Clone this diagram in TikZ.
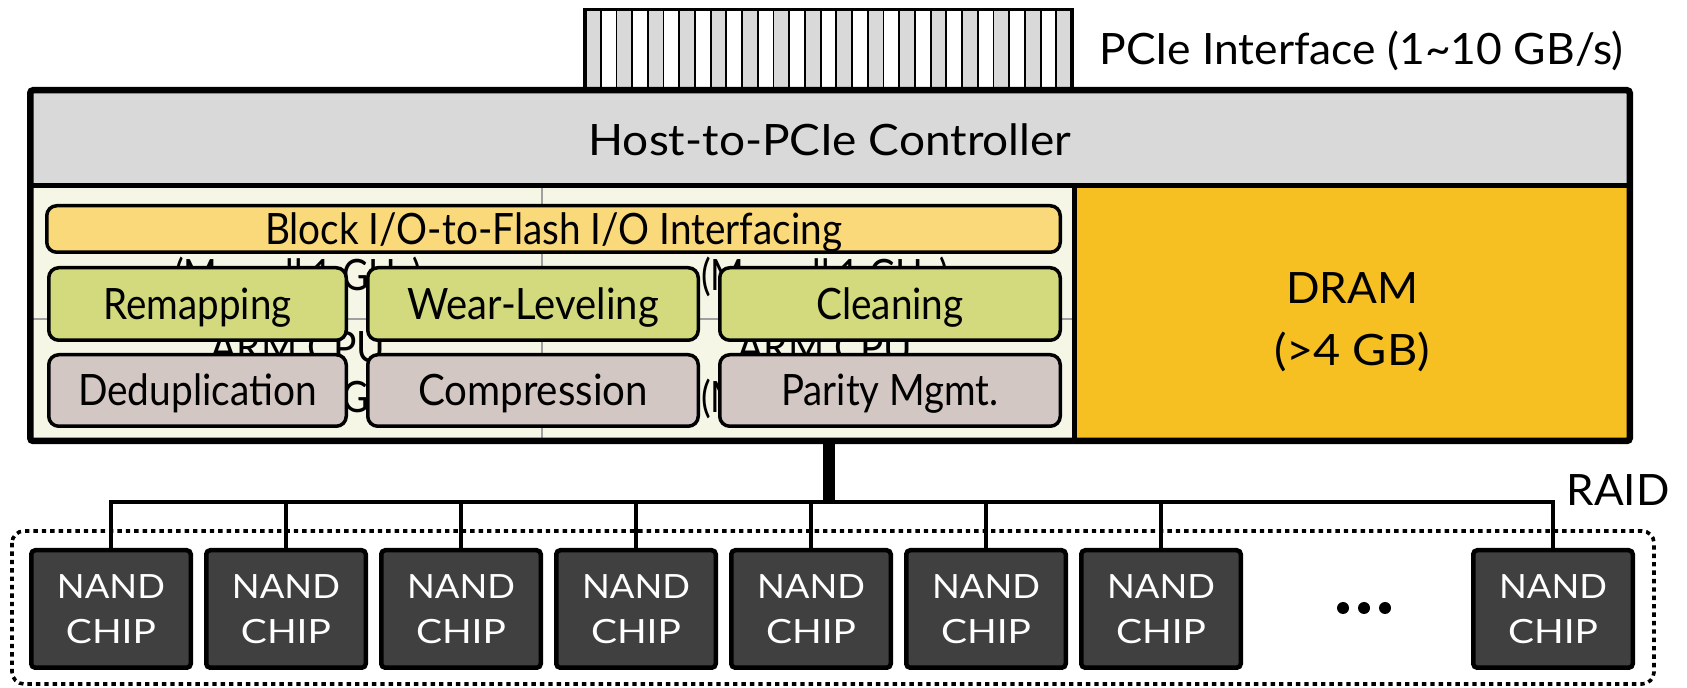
\documentclass[tikz,border=0pt]{standalone}
\usepackage{fontspec}
\setmainfont{Lato}

\definecolor{ctrlgray}{HTML}{D9D9D9}
\definecolor{cream}{HTML}{F6F6E6}
\definecolor{dramfill}{HTML}{F6C022}
\definecolor{iofill}{HTML}{FAD97A}
\definecolor{ftlgreen}{HTML}{D3DA7D}
\definecolor{svcmauve}{HTML}{D3C7C3}
\definecolor{chipfill}{HTML}{404040}
\definecolor{gridgray}{HTML}{A0A0A0}

\newcommand\lblfont{\fontsize{21.6pt}{26pt}\selectfont}
\newcommand\chipfont{\fontsize{16.7pt}{22.5pt}\selectfont}
% set a label to a given width, keeping its height
\newcommand\fitw[2]{\resizebox{#1}{\height}{#2}}

\tikzset{
  ssdframe/.style={draw=black,line width=3.25pt,rounded corners=1.5pt,inner sep=0pt},
  divider/.style={draw=black,line width=2.3pt},
  gridline/.style={draw=gridgray,line width=0.6pt},
  lbl/.style={inner sep=0pt,text height=15.5pt,text depth=0pt,font=\lblfont},
  fwbox/.style={lbl,draw=black,line width=1.75pt,rounded corners=5pt},
  nandchip/.style={draw=black,fill=chipfill,line width=2.25pt,rounded corners=2pt,
    inner sep=0pt,minimum width=79.75pt,minimum height=58.75pt,
    text=white,align=center,font=\chipfont},
  buswire/.style={draw=black,line width=2pt},
  uplink/.style={draw=black,line width=6pt},
  raidbox/.style={draw=black,line width=1.8pt,dash pattern=on 2.2pt off 2pt,rounded corners=6pt},
  pcistripe/.style={draw=black,line width=0.9pt},
}

\begin{document}
\begin{tikzpicture}[x=0.5pt,y=-0.5pt]
\useasboundingbox (0,0) rectangle (1687,688);

% PCIe edge connector
\foreach \k in {0,...,30}{
  \pgfmathsetmacro\xa{585+\k*15.71}
  \pgfmathsetmacro\xb{585+(\k+1)*15.71}
  \ifodd\k \def\stripefill{white}\else\def\stripefill{ctrlgray}\fi
  \filldraw[pcistripe,fill=\stripefill] (\xa,9.5) rectangle (\xb,90);
}
\draw[line width=1.6pt] (585,90) -- (585,9.5) -- (1072,9.5) -- (1072,90);
\node[lbl,anchor=west] (pcielbl) at (1099,49) {\fitw{262pt}{PCIe Interface (1\textasciitilde10 GB/s)}};

% controller board regions
\fill[ctrlgray] (30,90) rectangle (1630,185.5);
\fill[cream] (30,185.5) rectangle (1074.5,441);
\fill[dramfill] (1074.5,185.5) rectangle (1630,441);
\draw[gridline] (542,185.5) -- (542,441);
\draw[gridline] (30,319) -- (1074.5,319);

% embedded cores underneath the firmware blocks
\node[lbl] (clkA) at (298,275) {\fitw{124pt}{(Marvell 1 GHz)}};
\node[lbl] (clkB) at (825,275) {\fitw{124pt}{(Marvell 1 GHz)}};
\node[lbl] (cpuC) at (298,347) {\fitw{87.5pt}{ARM CPU}};
\node[lbl] (clkC) at (298,397) {\fitw{124pt}{(Marvell 1 GHz)}};
\node[lbl] (cpuD) at (825,347) {\fitw{87.5pt}{ARM CPU}};
\node[lbl] (clkD) at (825,397) {\fitw{124pt}{(Marvell 1 GHz)}};

\draw[divider] (30,185.5) -- (1630,185.5);
\draw[divider] (1074.5,185.5) -- (1074.5,441);

\node[lbl] (ctrltxt) at (830,140) {\fitw{241.5pt}{Host-to-PCIe Controller}};
\node[lbl] (dramtxt) at (1352,288) {\fitw{66pt}{DRAM}};
\node[lbl] (dramsize) at (1352,350) {\fitw{78pt}{(>4 GB)}};

% firmware blocks
\node[fwbox,fill=iofill,minimum width=506.75pt,minimum height=23.25pt] (iomap) at (553.5,229)
  {\fitw{288.4pt}{Block I/O-to-Flash I/O Interfacing}};
\node[fwbox,fill=ftlgreen,minimum width=148.75pt,minimum height=36.25pt] (remap) at (197.5,304)
  {\fitw{94pt}{Remapping}};
\node[fwbox,fill=ftlgreen,minimum width=165.25pt,minimum height=36.25pt] (wear) at (533,304)
  {\fitw{126pt}{Wear-Leveling}};
\node[fwbox,fill=ftlgreen,minimum width=170.25pt,minimum height=36.25pt] (clean) at (890,304)
  {\fitw{73.7pt}{Cleaning}};
\node[fwbox,fill=svcmauve,minimum width=148.75pt,minimum height=35.75pt] (dedup) at (197.5,390.5)
  {\fitw{119.4pt}{Deduplication}};
\node[fwbox,fill=svcmauve,minimum width=165.25pt,minimum height=35.75pt] (comp) at (533,390.5)
  {\fitw{115pt}{Compression}};
\node[fwbox,fill=svcmauve,minimum width=170.25pt,minimum height=35.75pt] (parity) at (890,390.5)
  {\fitw{108.7pt}{Parity Mgmt.}};

% outer frame of the controller board
\node[ssdframe,minimum width=799.75pt,minimum height=175.4pt] (ssd) at (830,265.6) {};

% flash array
\draw[raidbox] (12,531) rectangle (1654,684);
\foreach \i/\cx in {1/111,2/286,3/461,4/636,5/811,6/986,7/1161,8/1553}
  \node[nandchip] (nand\i) at (\cx,609) {\fitw{54pt}{NAND}\\\fitw{45pt}{CHIP}};
\foreach \dx in {1343,1364,1385}
  \fill (\dx,608) circle (6);
\node[lbl] (raidlbl) at (1618,490) {\fitw{51.5pt}{RAID}};

% channel bus
\coordinate (bus) at (829,502);
\draw[buswire] (nand1.north) -- (nand1.north |- bus) -- (nand8.north |- bus) -- (nand8.north);
\foreach \i in {2,...,7}
  \draw[buswire] (nand\i.north) -- (nand\i.north |- bus);
\draw[uplink] (ssd.south -| bus) -- (bus);
\end{tikzpicture}
\end{document}
